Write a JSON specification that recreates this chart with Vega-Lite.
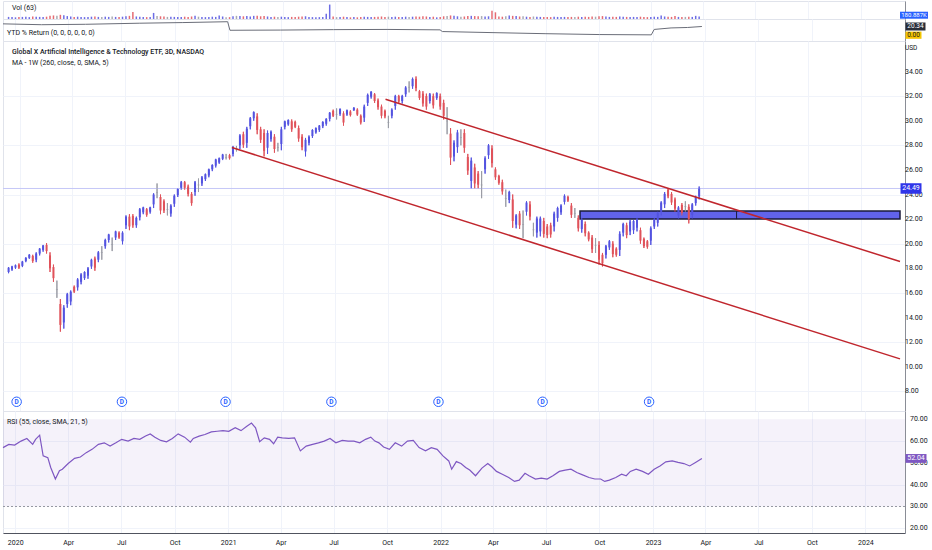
{
  "$schema": "https://vega.github.io/schema/vega-lite/v6.json",
  "background": "#ffffff",
  "padding": 0,
  "spacing": 0,
  "bounds": "flush",
  "config": {
    "view": {"stroke": "#e0e3eb", "strokeWidth": 1},
    "font": "Roboto",
    "text": {"font": "Roboto"},
    "axis": {"labelFont": "Roboto", "labelFontSize": 7, "labelColor": "#131722", "gridColor": "#f0f3fa", "ticks": false, "domainColor": "#8a8d96", "labelOverlap": false}
  },
  "datasets": {
    "px": [
      {"t": "2019-12-12", "o": 17.7, "h": 18.1, "l": 17.6, "c": 18.05, "v": 100},
      {"t": "2019-12-18", "o": 17.9, "h": 18.2, "l": 17.8, "c": 18.15, "v": 90},
      {"t": "2019-12-24", "o": 18.05, "h": 18.3, "l": 17.95, "c": 18.25, "v": 80},
      {"t": "2019-12-30", "o": 18.3, "h": 18.4, "l": 17.95, "c": 18.05, "v": 95},
      {"t": "2020-01-05", "o": 18.2, "h": 18.6, "l": 18.1, "c": 18.55, "v": 100},
      {"t": "2020-01-11", "o": 18.6, "h": 18.9, "l": 18.5, "c": 18.85, "v": 110},
      {"t": "2020-01-17", "o": 18.85, "h": 19.15, "l": 18.77, "c": 19.1, "v": 90},
      {"t": "2020-01-23", "o": 19.0, "h": 19.1, "l": 18.45, "c": 18.6, "v": 120},
      {"t": "2020-01-29", "o": 18.7, "h": 19.3, "l": 18.5, "c": 19.2, "v": 110},
      {"t": "2020-02-04", "o": 19.2, "h": 19.65, "l": 19.05, "c": 19.6, "v": 100},
      {"t": "2020-02-10", "o": 19.5, "h": 19.9, "l": 19.35, "c": 19.85, "v": 90},
      {"t": "2020-02-16", "o": 19.9, "h": 20.05, "l": 19.2, "c": 19.4, "v": 110},
      {"t": "2020-02-22", "o": 19.05, "h": 19.3, "l": 17.7, "c": 18.0, "v": 150},
      {"t": "2020-02-28", "o": 18.1, "h": 18.3, "l": 16.9, "c": 17.2, "v": 170},
      {"t": "2020-03-05", "o": 16.3, "h": 17.0, "l": 15.6, "c": 16.25, "v": 160},
      {"t": "2020-03-11", "o": 15.1, "h": 15.5, "l": 12.85, "c": 13.4, "v": 200},
      {"t": "2020-03-17", "o": 13.6, "h": 15.0, "l": 13.1, "c": 14.8, "v": 180},
      {"t": "2020-03-23", "o": 15.1, "h": 16.0, "l": 14.8, "c": 15.9, "v": 140},
      {"t": "2020-03-29", "o": 15.3, "h": 16.2, "l": 15.0, "c": 16.1, "v": 120},
      {"t": "2020-04-04", "o": 16.5, "h": 16.6, "l": 16.0, "c": 16.1, "v": 100},
      {"t": "2020-04-10", "o": 16.45, "h": 17.2, "l": 16.2, "c": 17.1, "v": 110},
      {"t": "2020-04-16", "o": 16.9, "h": 17.6, "l": 16.7, "c": 17.5, "v": 100},
      {"t": "2020-04-22", "o": 17.2, "h": 17.75, "l": 17.05, "c": 17.7, "v": 90},
      {"t": "2020-04-28", "o": 17.4, "h": 18.1, "l": 17.15, "c": 18.0, "v": 100},
      {"t": "2020-05-04", "o": 18.15, "h": 18.77, "l": 17.96, "c": 18.7, "v": 110},
      {"t": "2020-05-10", "o": 18.8, "h": 18.95, "l": 17.8, "c": 18.05, "v": 120},
      {"t": "2020-05-16", "o": 18.7, "h": 19.4, "l": 18.5, "c": 19.3, "v": 100},
      {"t": "2020-05-22", "o": 19.25, "h": 19.8, "l": 18.7, "c": 19.3, "v": 90},
      {"t": "2020-05-28", "o": 19.8, "h": 20.4, "l": 19.6, "c": 20.3, "v": 110},
      {"t": "2020-06-03", "o": 20.3, "h": 20.8, "l": 20.1, "c": 20.75, "v": 100},
      {"t": "2020-06-09", "o": 19.95, "h": 20.5, "l": 19.4, "c": 19.9, "v": 120},
      {"t": "2020-06-15", "o": 20.5, "h": 21.05, "l": 20.3, "c": 21.0, "v": 100},
      {"t": "2020-06-21", "o": 20.9, "h": 21.0, "l": 20.4, "c": 20.5, "v": 90},
      {"t": "2020-06-27", "o": 20.2, "h": 21.0, "l": 19.95, "c": 20.9, "v": 110},
      {"t": "2020-07-03", "o": 21.5, "h": 22.3, "l": 21.2, "c": 22.2, "v": 130},
      {"t": "2020-07-09", "o": 22.2, "h": 22.4, "l": 21.1, "c": 21.4, "v": 150},
      {"t": "2020-07-15", "o": 22.25, "h": 22.4, "l": 21.3, "c": 21.5, "v": 330},
      {"t": "2020-07-21", "o": 21.5, "h": 22.2, "l": 21.3, "c": 22.1, "v": 120},
      {"t": "2020-07-27", "o": 22.15, "h": 22.9, "l": 21.9, "c": 22.8, "v": 110},
      {"t": "2020-08-02", "o": 22.55, "h": 23.0, "l": 22.4, "c": 22.95, "v": 100},
      {"t": "2020-08-08", "o": 22.8, "h": 22.9, "l": 22.2, "c": 22.35, "v": 90},
      {"t": "2020-08-14", "o": 22.6, "h": 23.0, "l": 22.45, "c": 22.95, "v": 100},
      {"t": "2020-08-20", "o": 23.2, "h": 24.1, "l": 22.9, "c": 24.0, "v": 290},
      {"t": "2020-08-26", "o": 24.2, "h": 24.9, "l": 23.7, "c": 24.15, "v": 140},
      {"t": "2020-09-01", "o": 23.8, "h": 24.0, "l": 22.4, "c": 22.7, "v": 130},
      {"t": "2020-09-07", "o": 23.45, "h": 23.6, "l": 22.5, "c": 22.7, "v": 120},
      {"t": "2020-09-13", "o": 22.8, "h": 23.3, "l": 22.3, "c": 22.75, "v": 100},
      {"t": "2020-09-19", "o": 22.45, "h": 23.2, "l": 22.2, "c": 23.1, "v": 110},
      {"t": "2020-09-25", "o": 23.25, "h": 24.0, "l": 23.0, "c": 23.9, "v": 100},
      {"t": "2020-10-01", "o": 23.95, "h": 24.5, "l": 23.8, "c": 24.45, "v": 90},
      {"t": "2020-10-07", "o": 24.55, "h": 25.1, "l": 24.4, "c": 25.0, "v": 100},
      {"t": "2020-10-13", "o": 25.0, "h": 25.1, "l": 24.4, "c": 24.55, "v": 110},
      {"t": "2020-10-19", "o": 24.65, "h": 24.8, "l": 23.85, "c": 24.05, "v": 100},
      {"t": "2020-10-25", "o": 24.05, "h": 24.2, "l": 23.1, "c": 23.3, "v": 120},
      {"t": "2020-10-31", "o": 24.2, "h": 25.1, "l": 23.9, "c": 25.0, "v": 160},
      {"t": "2020-11-06", "o": 24.75, "h": 25.3, "l": 24.2, "c": 24.8, "v": 110},
      {"t": "2020-11-12", "o": 24.9, "h": 25.5, "l": 24.7, "c": 25.4, "v": 100},
      {"t": "2020-11-18", "o": 25.25, "h": 25.7, "l": 25.1, "c": 25.65, "v": 90},
      {"t": "2020-11-24", "o": 25.55, "h": 26.1, "l": 25.4, "c": 26.05, "v": 100},
      {"t": "2020-11-30", "o": 26.05, "h": 26.45, "l": 25.9, "c": 26.4, "v": 110},
      {"t": "2020-12-06", "o": 26.35, "h": 26.9, "l": 26.2, "c": 26.85, "v": 100},
      {"t": "2020-12-12", "o": 26.6, "h": 27.0, "l": 26.5, "c": 26.95, "v": 170},
      {"t": "2020-12-18", "o": 26.9, "h": 27.3, "l": 26.8, "c": 27.25, "v": 120},
      {"t": "2020-12-24", "o": 27.05, "h": 27.3, "l": 26.85, "c": 27.0, "v": 80},
      {"t": "2020-12-30", "o": 27.2, "h": 27.3, "l": 26.85, "c": 26.95, "v": 90},
      {"t": "2021-01-05", "o": 27.3, "h": 27.95, "l": 27.1, "c": 27.85, "v": 130},
      {"t": "2021-01-11", "o": 27.75, "h": 27.95, "l": 27.5, "c": 27.7, "v": 150},
      {"t": "2021-01-17", "o": 28.0, "h": 28.9, "l": 27.7, "c": 28.8, "v": 140},
      {"t": "2021-01-23", "o": 28.9, "h": 29.1, "l": 27.8, "c": 28.05, "v": 130},
      {"t": "2021-01-29", "o": 28.2, "h": 29.5, "l": 27.8, "c": 29.35, "v": 140},
      {"t": "2021-02-04", "o": 29.55, "h": 30.3, "l": 29.3, "c": 30.2, "v": 120},
      {"t": "2021-02-10", "o": 30.2, "h": 30.75, "l": 30.0, "c": 30.7, "v": 150},
      {"t": "2021-02-16", "o": 30.35, "h": 30.6, "l": 28.9, "c": 29.25, "v": 160},
      {"t": "2021-02-22", "o": 29.3, "h": 29.5, "l": 28.2, "c": 28.45, "v": 130},
      {"t": "2021-02-28", "o": 29.0, "h": 29.3, "l": 27.1, "c": 27.55, "v": 140},
      {"t": "2021-03-06", "o": 27.8, "h": 29.2, "l": 27.3, "c": 29.0, "v": 120},
      {"t": "2021-03-12", "o": 28.5, "h": 29.2, "l": 28.3, "c": 29.1, "v": 100},
      {"t": "2021-03-18", "o": 28.7, "h": 28.9, "l": 27.4, "c": 27.7, "v": 110},
      {"t": "2021-03-24", "o": 27.85, "h": 28.2, "l": 27.5, "c": 27.8, "v": 100},
      {"t": "2021-03-30", "o": 28.1, "h": 29.5, "l": 27.6, "c": 29.3, "v": 110},
      {"t": "2021-04-05", "o": 29.5, "h": 30.0, "l": 29.3, "c": 29.95, "v": 100},
      {"t": "2021-04-11", "o": 29.7, "h": 30.1, "l": 29.6, "c": 30.05, "v": 90},
      {"t": "2021-04-17", "o": 29.95, "h": 30.1, "l": 29.1, "c": 29.3, "v": 100},
      {"t": "2021-04-23", "o": 29.9, "h": 30.0, "l": 29.4, "c": 29.5, "v": 90},
      {"t": "2021-04-29", "o": 29.4, "h": 29.6, "l": 28.3, "c": 28.55, "v": 110},
      {"t": "2021-05-05", "o": 28.7, "h": 28.9, "l": 27.6, "c": 27.85, "v": 120},
      {"t": "2021-05-11", "o": 27.5, "h": 28.6, "l": 27.1, "c": 28.45, "v": 130},
      {"t": "2021-05-17", "o": 28.2, "h": 28.8, "l": 28.0, "c": 28.7, "v": 100},
      {"t": "2021-05-23", "o": 28.75, "h": 29.3, "l": 28.6, "c": 29.25, "v": 90},
      {"t": "2021-05-29", "o": 29.05, "h": 29.45, "l": 28.95, "c": 29.4, "v": 80},
      {"t": "2021-06-04", "o": 29.25, "h": 29.65, "l": 29.1, "c": 29.6, "v": 90},
      {"t": "2021-06-10", "o": 29.55, "h": 29.95, "l": 29.4, "c": 29.9, "v": 100},
      {"t": "2021-06-16", "o": 29.75, "h": 30.2, "l": 29.6, "c": 30.15, "v": 250},
      {"t": "2021-06-22", "o": 30.15, "h": 30.7, "l": 29.95, "c": 30.65, "v": 690},
      {"t": "2021-06-28", "o": 30.8, "h": 30.9, "l": 30.3, "c": 30.4, "v": 120},
      {"t": "2021-07-04", "o": 30.55, "h": 31.0, "l": 30.1, "c": 30.5, "v": 90},
      {"t": "2021-07-10", "o": 30.55, "h": 31.0, "l": 30.4, "c": 30.95, "v": 100},
      {"t": "2021-07-16", "o": 30.6, "h": 30.75, "l": 29.6, "c": 29.85, "v": 110},
      {"t": "2021-07-22", "o": 30.5, "h": 30.9, "l": 30.4, "c": 30.85, "v": 90},
      {"t": "2021-07-28", "o": 30.75, "h": 30.85, "l": 30.35, "c": 30.45, "v": 80},
      {"t": "2021-08-03", "o": 30.85, "h": 31.1, "l": 30.8, "c": 31.05, "v": 90},
      {"t": "2021-08-09", "o": 30.9, "h": 31.0, "l": 30.4, "c": 30.5, "v": 80},
      {"t": "2021-08-15", "o": 30.4, "h": 30.5, "l": 29.7, "c": 29.85, "v": 100},
      {"t": "2021-08-21", "o": 30.25, "h": 31.3, "l": 29.9, "c": 31.15, "v": 110},
      {"t": "2021-08-27", "o": 31.45, "h": 32.2, "l": 31.2, "c": 32.1, "v": 100},
      {"t": "2021-09-02", "o": 31.95, "h": 32.4, "l": 31.8, "c": 32.35, "v": 90},
      {"t": "2021-09-08", "o": 32.15, "h": 32.25, "l": 31.45, "c": 31.6, "v": 100},
      {"t": "2021-09-14", "o": 31.65, "h": 31.8, "l": 30.9, "c": 31.1, "v": 110},
      {"t": "2021-09-20", "o": 31.15, "h": 31.3, "l": 30.2, "c": 30.4, "v": 120},
      {"t": "2021-09-26", "o": 30.8, "h": 30.9, "l": 30.2, "c": 30.35, "v": 100},
      {"t": "2021-10-02", "o": 29.9, "h": 30.4, "l": 29.4, "c": 29.85, "v": 110},
      {"t": "2021-10-08", "o": 30.4, "h": 31.0, "l": 30.2, "c": 30.9, "v": 100},
      {"t": "2021-10-14", "o": 31.2, "h": 32.1, "l": 30.9, "c": 32.0, "v": 110},
      {"t": "2021-10-20", "o": 32.0, "h": 32.1, "l": 31.4, "c": 31.55, "v": 90},
      {"t": "2021-10-26", "o": 31.6, "h": 32.1, "l": 31.4, "c": 32.0, "v": 100},
      {"t": "2021-11-01", "o": 32.15, "h": 32.8, "l": 31.95, "c": 32.7, "v": 110},
      {"t": "2021-11-07", "o": 32.75, "h": 33.2, "l": 32.3, "c": 32.7, "v": 100},
      {"t": "2021-11-13", "o": 32.8, "h": 33.5, "l": 32.6, "c": 33.4, "v": 110},
      {"t": "2021-11-19", "o": 33.4, "h": 33.6, "l": 32.4, "c": 32.65, "v": 120},
      {"t": "2021-11-25", "o": 32.4, "h": 32.5, "l": 31.7, "c": 31.85, "v": 110},
      {"t": "2021-12-01", "o": 32.2, "h": 32.4, "l": 31.15, "c": 31.4, "v": 130},
      {"t": "2021-12-07", "o": 32.0, "h": 32.2, "l": 30.9, "c": 31.15, "v": 120},
      {"t": "2021-12-13", "o": 31.6, "h": 32.25, "l": 31.4, "c": 32.15, "v": 100},
      {"t": "2021-12-19", "o": 32.0, "h": 32.2, "l": 31.0, "c": 31.25, "v": 110},
      {"t": "2021-12-25", "o": 31.85, "h": 32.3, "l": 31.7, "c": 32.25, "v": 80},
      {"t": "2021-12-31", "o": 32.0, "h": 32.2, "l": 30.9, "c": 31.15, "v": 100},
      {"t": "2022-01-06", "o": 31.45, "h": 31.7, "l": 30.1, "c": 30.4, "v": 130},
      {"t": "2022-01-12", "o": 30.0, "h": 31.1, "l": 28.9, "c": 29.95, "v": 140},
      {"t": "2022-01-18", "o": 28.95, "h": 29.4, "l": 26.4, "c": 27.0, "v": 170},
      {"t": "2022-01-24", "o": 27.1, "h": 28.4, "l": 26.7, "c": 28.2, "v": 160},
      {"t": "2022-01-30", "o": 27.85, "h": 29.25, "l": 27.4, "c": 29.05, "v": 130},
      {"t": "2022-02-05", "o": 28.65, "h": 29.3, "l": 28.0, "c": 28.6, "v": 110},
      {"t": "2022-02-11", "o": 29.0, "h": 29.3, "l": 27.4, "c": 27.8, "v": 120},
      {"t": "2022-02-17", "o": 27.05, "h": 27.3, "l": 25.6, "c": 25.95, "v": 140},
      {"t": "2022-02-23", "o": 25.1, "h": 27.0, "l": 24.5, "c": 26.75, "v": 150},
      {"t": "2022-03-01", "o": 26.2, "h": 26.5, "l": 24.5, "c": 24.9, "v": 140},
      {"t": "2022-03-07", "o": 25.7, "h": 25.9, "l": 24.5, "c": 24.8, "v": 130},
      {"t": "2022-03-13", "o": 24.8, "h": 25.9, "l": 23.7, "c": 24.75, "v": 140},
      {"t": "2022-03-19", "o": 26.05, "h": 27.1, "l": 25.7, "c": 26.95, "v": 120},
      {"t": "2022-03-25", "o": 27.2, "h": 28.1, "l": 26.9, "c": 28.0, "v": 130},
      {"t": "2022-03-31", "o": 27.75, "h": 28.0, "l": 26.2, "c": 26.55, "v": 400},
      {"t": "2022-04-06", "o": 26.05, "h": 26.2, "l": 25.2, "c": 25.4, "v": 320},
      {"t": "2022-04-12", "o": 25.5, "h": 25.6, "l": 24.8, "c": 24.95, "v": 120},
      {"t": "2022-04-18", "o": 25.0, "h": 25.2, "l": 24.0, "c": 24.25, "v": 110},
      {"t": "2022-04-24", "o": 23.7, "h": 24.4, "l": 23.0, "c": 23.65, "v": 130},
      {"t": "2022-04-30", "o": 23.55, "h": 24.3, "l": 23.3, "c": 24.2, "v": 170},
      {"t": "2022-05-06", "o": 23.6, "h": 24.0, "l": 21.3, "c": 21.85, "v": 150},
      {"t": "2022-05-12", "o": 21.55, "h": 22.4, "l": 21.25, "c": 22.3, "v": 140},
      {"t": "2022-05-18", "o": 22.45, "h": 22.65, "l": 21.2, "c": 21.5, "v": 120},
      {"t": "2022-05-24", "o": 21.6, "h": 22.7, "l": 20.45, "c": 21.55, "v": 130},
      {"t": "2022-05-30", "o": 22.6, "h": 23.45, "l": 22.3, "c": 23.35, "v": 110},
      {"t": "2022-06-05", "o": 23.2, "h": 23.45, "l": 21.9, "c": 22.2, "v": 100},
      {"t": "2022-06-11", "o": 21.15, "h": 21.7, "l": 20.6, "c": 21.1, "v": 120},
      {"t": "2022-06-17", "o": 20.9, "h": 22.2, "l": 20.5, "c": 22.05, "v": 110},
      {"t": "2022-06-23", "o": 21.0, "h": 22.2, "l": 20.6, "c": 22.05, "v": 100},
      {"t": "2022-06-29", "o": 21.85, "h": 22.1, "l": 20.5, "c": 20.8, "v": 90},
      {"t": "2022-07-05", "o": 21.4, "h": 21.6, "l": 20.45, "c": 20.7, "v": 100},
      {"t": "2022-07-11", "o": 21.5, "h": 21.7, "l": 20.5, "c": 20.75, "v": 90},
      {"t": "2022-07-17", "o": 21.4, "h": 22.6, "l": 21.0, "c": 22.45, "v": 110},
      {"t": "2022-07-23", "o": 22.1, "h": 23.0, "l": 21.8, "c": 22.9, "v": 100},
      {"t": "2022-07-29", "o": 22.55, "h": 23.2, "l": 22.35, "c": 23.1, "v": 90},
      {"t": "2022-08-04", "o": 23.4, "h": 24.0, "l": 23.2, "c": 23.9, "v": 100},
      {"t": "2022-08-10", "o": 23.8, "h": 23.9, "l": 23.4, "c": 23.5, "v": 90},
      {"t": "2022-08-16", "o": 23.1, "h": 23.3, "l": 22.1, "c": 22.35, "v": 100},
      {"t": "2022-08-22", "o": 22.5, "h": 22.9, "l": 22.1, "c": 22.45, "v": 90},
      {"t": "2022-08-28", "o": 22.1, "h": 22.3, "l": 21.0, "c": 21.25, "v": 110},
      {"t": "2022-09-03", "o": 21.2, "h": 22.1, "l": 20.9, "c": 21.95, "v": 100},
      {"t": "2022-09-09", "o": 21.6, "h": 21.8, "l": 20.6, "c": 20.85, "v": 110},
      {"t": "2022-09-15", "o": 20.9, "h": 21.0, "l": 20.2, "c": 20.35, "v": 100},
      {"t": "2022-09-21", "o": 20.5, "h": 20.7, "l": 19.25, "c": 19.55, "v": 120},
      {"t": "2022-09-27", "o": 19.85, "h": 20.45, "l": 19.25, "c": 19.9, "v": 110},
      {"t": "2022-10-03", "o": 19.9, "h": 20.2, "l": 18.3, "c": 18.7, "v": 130},
      {"t": "2022-10-09", "o": 19.1, "h": 19.25, "l": 18.15, "c": 18.4, "v": 140},
      {"t": "2022-10-15", "o": 19.1, "h": 19.9, "l": 18.8, "c": 19.8, "v": 120},
      {"t": "2022-10-21", "o": 19.7, "h": 20.3, "l": 19.5, "c": 20.2, "v": 100},
      {"t": "2022-10-27", "o": 20.0, "h": 20.2, "l": 18.9, "c": 19.15, "v": 110},
      {"t": "2022-11-02", "o": 19.6, "h": 19.7, "l": 18.95, "c": 19.1, "v": 100},
      {"t": "2022-11-08", "o": 19.5, "h": 21.0, "l": 19.0, "c": 20.8, "v": 120},
      {"t": "2022-11-14", "o": 20.9, "h": 21.7, "l": 20.6, "c": 21.6, "v": 110},
      {"t": "2022-11-20", "o": 21.5, "h": 21.7, "l": 20.45, "c": 20.7, "v": 100},
      {"t": "2022-11-26", "o": 21.0, "h": 21.95, "l": 20.7, "c": 21.8, "v": 90},
      {"t": "2022-12-02", "o": 21.1, "h": 21.95, "l": 20.8, "c": 21.85, "v": 100},
      {"t": "2022-12-08", "o": 21.3, "h": 22.1, "l": 21.0, "c": 22.0, "v": 90},
      {"t": "2022-12-14", "o": 21.1, "h": 21.3, "l": 20.0, "c": 20.25, "v": 110},
      {"t": "2022-12-20", "o": 20.4, "h": 20.5, "l": 19.65, "c": 19.8, "v": 100},
      {"t": "2022-12-26", "o": 20.2, "h": 20.3, "l": 19.6, "c": 19.75, "v": 90},
      {"t": "2023-01-01", "o": 20.25, "h": 21.4, "l": 19.9, "c": 21.25, "v": 100},
      {"t": "2023-01-07", "o": 21.4, "h": 22.1, "l": 21.2, "c": 22.0, "v": 110},
      {"t": "2023-01-13", "o": 21.7, "h": 22.6, "l": 21.4, "c": 22.5, "v": 100},
      {"t": "2023-01-19", "o": 22.6, "h": 23.45, "l": 22.3, "c": 23.35, "v": 170},
      {"t": "2023-01-25", "o": 23.2, "h": 24.2, "l": 22.9, "c": 24.05, "v": 120},
      {"t": "2023-01-31", "o": 24.4, "h": 24.5, "l": 23.7, "c": 23.85, "v": 110},
      {"t": "2023-02-06", "o": 24.05, "h": 24.2, "l": 23.15, "c": 23.35, "v": 100},
      {"t": "2023-02-12", "o": 23.6, "h": 23.75, "l": 22.6, "c": 22.85, "v": 140},
      {"t": "2023-02-18", "o": 22.3, "h": 23.05, "l": 22.05, "c": 22.95, "v": 100},
      {"t": "2023-02-24", "o": 23.15, "h": 23.3, "l": 22.3, "c": 22.5, "v": 90},
      {"t": "2023-03-02", "o": 23.0, "h": 23.45, "l": 22.6, "c": 23.05, "v": 100},
      {"t": "2023-03-08", "o": 23.0, "h": 23.2, "l": 21.65, "c": 22.0, "v": 110},
      {"t": "2023-03-14", "o": 22.35, "h": 23.3, "l": 22.05, "c": 23.2, "v": 100},
      {"t": "2023-03-20", "o": 23.3, "h": 23.9, "l": 23.1, "c": 23.8, "v": 150},
      {"t": "2023-03-26", "o": 23.85, "h": 24.65, "l": 23.6, "c": 24.49, "v": 120}
    ],
    "ytd": [
      {"t": "2019-12-11", "ret": 26.5},
      {"t": "2020-02-15", "ret": 24.5},
      {"t": "2020-05-01", "ret": 25.5},
      {"t": "2020-08-01", "ret": 28},
      {"t": "2020-10-15", "ret": 29.5},
      {"t": "2020-12-31", "ret": 31.5},
      {"t": "2021-01-04", "ret": 11.5},
      {"t": "2021-04-01", "ret": 12},
      {"t": "2021-07-01", "ret": 13},
      {"t": "2021-10-01", "ret": 13.5},
      {"t": "2021-12-31", "ret": 12.5},
      {"t": "2022-01-04", "ret": 8.5},
      {"t": "2022-04-01", "ret": 6},
      {"t": "2022-07-01", "ret": 3.5},
      {"t": "2022-10-01", "ret": 1.5},
      {"t": "2022-12-29", "ret": 0.8},
      {"t": "2023-01-03", "ret": 13.5},
      {"t": "2023-02-01", "ret": 17},
      {"t": "2023-03-01", "ret": 18},
      {"t": "2023-03-26", "ret": 20.34}
    ],
    "rsi": [
      {"t": "2019-12-11", "r": 57.0}, {"t": "2019-12-21", "r": 58.5}, {"t": "2019-12-31", "r": 58.2},
      {"t": "2020-01-11", "r": 60.0}, {"t": "2020-01-21", "r": 61.2}, {"t": "2020-01-31", "r": 58.5},
      {"t": "2020-02-05", "r": 60.8}, {"t": "2020-02-12", "r": 62.7}, {"t": "2020-02-18", "r": 53.2},
      {"t": "2020-02-26", "r": 52.4}, {"t": "2020-03-02", "r": 47.9}, {"t": "2020-03-10", "r": 42.6},
      {"t": "2020-03-17", "r": 46.4}, {"t": "2020-03-22", "r": 47.1}, {"t": "2020-04-01", "r": 49.7},
      {"t": "2020-04-12", "r": 52.1}, {"t": "2020-04-22", "r": 52.7}, {"t": "2020-05-02", "r": 54.7},
      {"t": "2020-05-12", "r": 56.2}, {"t": "2020-05-23", "r": 58.5}, {"t": "2020-06-02", "r": 59.2},
      {"t": "2020-06-12", "r": 57.7}, {"t": "2020-06-22", "r": 59.2}, {"t": "2020-07-02", "r": 60.8},
      {"t": "2020-07-13", "r": 60.0}, {"t": "2020-07-23", "r": 61.2}, {"t": "2020-08-02", "r": 60.8},
      {"t": "2020-08-12", "r": 62.3}, {"t": "2020-08-20", "r": 63.3}, {"t": "2020-08-28", "r": 61.8},
      {"t": "2020-09-07", "r": 60.3}, {"t": "2020-09-17", "r": 59.7}, {"t": "2020-09-27", "r": 61.2},
      {"t": "2020-10-07", "r": 63.3}, {"t": "2020-10-18", "r": 61.8}, {"t": "2020-10-28", "r": 59.5},
      {"t": "2020-11-02", "r": 61.2}, {"t": "2020-11-12", "r": 62.3}, {"t": "2020-11-22", "r": 63.0},
      {"t": "2020-12-03", "r": 64.2}, {"t": "2020-12-13", "r": 64.5}, {"t": "2020-12-23", "r": 64.8},
      {"t": "2021-01-02", "r": 64.5}, {"t": "2021-01-13", "r": 66.1}, {"t": "2021-01-23", "r": 64.8},
      {"t": "2021-02-02", "r": 66.8}, {"t": "2021-02-10", "r": 68.3}, {"t": "2021-02-17", "r": 66.1},
      {"t": "2021-02-24", "r": 59.7}, {"t": "2021-03-04", "r": 61.5}, {"t": "2021-03-13", "r": 60.8},
      {"t": "2021-03-20", "r": 58.8}, {"t": "2021-03-27", "r": 61.8}, {"t": "2021-04-04", "r": 61.5},
      {"t": "2021-04-15", "r": 61.2}, {"t": "2021-04-25", "r": 61.5}, {"t": "2021-05-05", "r": 55.5},
      {"t": "2021-05-15", "r": 57.7}, {"t": "2021-05-26", "r": 58.5}, {"t": "2021-06-05", "r": 59.2},
      {"t": "2021-06-15", "r": 60.0}, {"t": "2021-06-25", "r": 61.2}, {"t": "2021-07-05", "r": 59.2},
      {"t": "2021-07-16", "r": 60.3}, {"t": "2021-07-26", "r": 60.0}, {"t": "2021-08-05", "r": 60.0},
      {"t": "2021-08-15", "r": 59.2}, {"t": "2021-08-25", "r": 60.8}, {"t": "2021-09-03", "r": 61.8},
      {"t": "2021-09-10", "r": 60.0}, {"t": "2021-09-17", "r": 59.2}, {"t": "2021-09-25", "r": 57.3},
      {"t": "2021-10-05", "r": 56.2}, {"t": "2021-10-15", "r": 59.2}, {"t": "2021-10-26", "r": 57.7},
      {"t": "2021-11-05", "r": 60.0}, {"t": "2021-11-15", "r": 60.3}, {"t": "2021-11-25", "r": 57.0},
      {"t": "2021-12-06", "r": 55.5}, {"t": "2021-12-16", "r": 57.0}, {"t": "2021-12-26", "r": 56.2},
      {"t": "2022-01-05", "r": 53.2}, {"t": "2022-01-15", "r": 50.9}, {"t": "2022-01-20", "r": 47.1},
      {"t": "2022-01-28", "r": 50.6}, {"t": "2022-02-05", "r": 49.7}, {"t": "2022-02-13", "r": 47.9},
      {"t": "2022-02-20", "r": 46.7}, {"t": "2022-03-02", "r": 44.1}, {"t": "2022-03-13", "r": 47.6},
      {"t": "2022-03-23", "r": 49.7}, {"t": "2022-03-30", "r": 48.2}, {"t": "2022-04-07", "r": 46.1},
      {"t": "2022-04-17", "r": 44.8}, {"t": "2022-04-28", "r": 43.3}, {"t": "2022-05-08", "r": 41.5},
      {"t": "2022-05-16", "r": 42.1}, {"t": "2022-05-26", "r": 45.2}, {"t": "2022-06-02", "r": 44.1},
      {"t": "2022-06-13", "r": 42.6}, {"t": "2022-06-23", "r": 43.0}, {"t": "2022-07-03", "r": 42.6},
      {"t": "2022-07-13", "r": 44.1}, {"t": "2022-07-24", "r": 46.1}, {"t": "2022-08-03", "r": 46.7},
      {"t": "2022-08-13", "r": 47.1}, {"t": "2022-08-23", "r": 45.6}, {"t": "2022-09-02", "r": 44.5},
      {"t": "2022-09-13", "r": 43.3}, {"t": "2022-09-23", "r": 42.6}, {"t": "2022-10-03", "r": 42.6},
      {"t": "2022-10-10", "r": 41.5}, {"t": "2022-10-18", "r": 42.1}, {"t": "2022-10-29", "r": 43.3},
      {"t": "2022-11-08", "r": 44.8}, {"t": "2022-11-16", "r": 44.1}, {"t": "2022-11-23", "r": 46.1},
      {"t": "2022-12-03", "r": 47.1}, {"t": "2022-12-14", "r": 46.1}, {"t": "2022-12-24", "r": 44.8},
      {"t": "2023-01-03", "r": 47.1}, {"t": "2023-01-13", "r": 48.6}, {"t": "2023-01-23", "r": 50.5},
      {"t": "2023-02-03", "r": 50.9}, {"t": "2023-02-13", "r": 50.2}, {"t": "2023-02-23", "r": 49.7},
      {"t": "2023-03-05", "r": 48.6}, {"t": "2023-03-15", "r": 50.2}, {"t": "2023-03-26", "r": 52.04}
    ],
    "chan": [
      {"name": "upper", "t": "2021-09-27", "p": 31.75},
      {"name": "upper", "t": "2024-03-09", "p": 18.55},
      {"name": "lower", "t": "2021-01-03", "p": 27.82},
      {"name": "lower", "t": "2024-03-09", "p": 10.64}
    ],
    "zone": [
      {"t1": "2022-08-31", "t2": "2024-03-09", "mid": "2023-05-30", "lo": 22.0, "hi": 22.65}
    ],
    "div": [
      {"t": "2019-12-26"}, {"t": "2020-06-26"}, {"t": "2020-12-23"}, {"t": "2021-06-25"},
      {"t": "2021-12-28"}, {"t": "2022-06-27"}, {"t": "2022-12-29"}
    ],
    "ptick": [
      {"p": 8}, {"p": 10}, {"p": 12}, {"p": 14}, {"p": 16}, {"p": 18}, {"p": 20},
      {"p": 22}, {"p": 24}, {"p": 26}, {"p": 28}, {"p": 30}, {"p": 32}, {"p": 34}
    ],
    "rtick": [
      {"r": 20}, {"r": 30}, {"r": 40}, {"r": 50}, {"r": 60}, {"r": 70}
    ]
  },
  "vconcat": [
    {
      "width": 902,
      "height": 18,
      "layer": [
        {
          "data": {"name": "px"},
          "mark": {"type": "bar", "size": 1.5, "opacity": 0.85},
          "encoding": {
            "x": {"field": "t", "type": "temporal", "title": null, "scale": {"type": "utc", "nice": false, "domain": [{"year": 2019, "month": 12, "date": 11, "utc": true}, {"year": 2024, "month": 3, "date": 9, "utc": true}]},
              "axis": {"title": null, "labels": false, "domain": false, "ticks": false, "grid": true,
                "values": [{"year": 2020, "month": 1, "date": 1, "utc": true}, {"year": 2020, "month": 4, "date": 1, "utc": true}, {"year": 2020, "month": 7, "date": 1, "utc": true}, {"year": 2020, "month": 10, "date": 1, "utc": true}, {"year": 2021, "month": 1, "date": 1, "utc": true}, {"year": 2021, "month": 4, "date": 1, "utc": true}, {"year": 2021, "month": 7, "date": 1, "utc": true}, {"year": 2021, "month": 10, "date": 1, "utc": true}, {"year": 2022, "month": 1, "date": 1, "utc": true}, {"year": 2022, "month": 4, "date": 1, "utc": true}, {"year": 2022, "month": 7, "date": 1, "utc": true}, {"year": 2022, "month": 10, "date": 1, "utc": true}, {"year": 2023, "month": 1, "date": 1, "utc": true}, {"year": 2023, "month": 4, "date": 1, "utc": true}, {"year": 2023, "month": 7, "date": 1, "utc": true}, {"year": 2023, "month": 10, "date": 1, "utc": true}, {"year": 2024, "month": 1, "date": 1, "utc": true}]}},
            "y": {"field": "v", "type": "quantitative", "title": null, "scale": {"domain": [0, 860], "nice": false}, "axis": {"title": null, "orient": "right", "labels": false, "grid": false, "ticks": false, "domain": true}},
            "color": {"condition": [{"test": "abs(datum.c - datum.o) < 0.1", "value": "#9a9ca5"}, {"test": "datum.c > datum.o", "value": "#5353e0"}], "value": "#e0525a"}
          }
        },
        {
          "data": {"values": [{}]},
          "mark": {"type": "text", "text": "Vol (63)", "align": "left", "baseline": "middle", "dx": 4, "fontSize": 7, "color": "#131722"},
          "encoding": {
            "x": {"datum": {"year": 2019, "month": 12, "date": 11, "utc": true}, "type": "temporal"},
            "y": {"datum": 525}
          }
        },
        {
          "data": {"values": [{}]},
          "mark": {"type": "point", "shape": "M-1,-0.25H1V0.25H-1Z", "size": 784, "filled": true, "opacity": 1, "color": "#2962ff", "strokeWidth": 0, "xOffset": 14},
          "encoding": {
            "x": {"datum": {"year": 2024, "month": 3, "date": 9, "utc": true}, "type": "temporal"},
            "y": {"datum": 180.887}
          }
        },
        {
          "data": {"values": [{}]},
          "mark": {"type": "text", "text": "180.887K", "align": "center", "baseline": "middle", "dx": 14, "fontSize": 6, "color": "#ffffff"},
          "encoding": {
            "x": {"datum": {"year": 2024, "month": 3, "date": 9, "utc": true}, "type": "temporal"},
            "y": {"datum": 180.887}
          }
        }
      ]
    },
    {
      "width": 902,
      "height": 22,
      "layer": [
        {
          "data": {"name": "ytd"},
          "mark": {"type": "line", "color": "#6a6d78", "strokeWidth": 1},
          "encoding": {
            "x": {"field": "t", "type": "temporal", "title": null, "scale": {"type": "utc", "nice": false, "domain": [{"year": 2019, "month": 12, "date": 11, "utc": true}, {"year": 2024, "month": 3, "date": 9, "utc": true}]},
              "axis": {"title": null, "labels": false, "domain": false, "ticks": false, "grid": true,
                "values": [{"year": 2020, "month": 1, "date": 1, "utc": true}, {"year": 2020, "month": 4, "date": 1, "utc": true}, {"year": 2020, "month": 7, "date": 1, "utc": true}, {"year": 2020, "month": 10, "date": 1, "utc": true}, {"year": 2021, "month": 1, "date": 1, "utc": true}, {"year": 2021, "month": 4, "date": 1, "utc": true}, {"year": 2021, "month": 7, "date": 1, "utc": true}, {"year": 2021, "month": 10, "date": 1, "utc": true}, {"year": 2022, "month": 1, "date": 1, "utc": true}, {"year": 2022, "month": 4, "date": 1, "utc": true}, {"year": 2022, "month": 7, "date": 1, "utc": true}, {"year": 2022, "month": 10, "date": 1, "utc": true}, {"year": 2023, "month": 1, "date": 1, "utc": true}, {"year": 2023, "month": 4, "date": 1, "utc": true}, {"year": 2023, "month": 7, "date": 1, "utc": true}, {"year": 2023, "month": 10, "date": 1, "utc": true}, {"year": 2024, "month": 1, "date": 1, "utc": true}]}},
            "y": {"field": "ret", "type": "quantitative", "title": null, "scale": {"domain": [-13.55, 37.85], "nice": false, "zero": false}, "axis": {"title": null, "orient": "right", "labels": false, "grid": false, "ticks": false, "domain": true}}
          }
        },
        {
          "data": {"values": [{}]},
          "mark": {"type": "text", "text": "YTD % Return (0, 0, 0, 0, 0, 0)", "align": "left", "baseline": "middle", "dx": 4, "fontSize": 7, "color": "#131722"},
          "encoding": {
            "x": {"datum": {"year": 2019, "month": 12, "date": 11, "utc": true}, "type": "temporal"},
            "y": {"datum": 5.85}
          }
        },
        {
          "data": {"values": [{}]},
          "mark": {"type": "point", "shape": "M-1,-0.4H1V0.4H-1Z", "size": 400, "filled": true, "opacity": 1, "color": "#2a2e39", "strokeWidth": 0, "xOffset": 10.5},
          "encoding": {
            "x": {"datum": {"year": 2024, "month": 3, "date": 9, "utc": true}, "type": "temporal"},
            "y": {"datum": 20.34}
          }
        },
        {
          "data": {"values": [{}]},
          "mark": {"type": "text", "text": "20.34", "align": "center", "baseline": "middle", "dx": 10.5, "fontSize": 6.5, "color": "#ffffff"},
          "encoding": {
            "x": {"datum": {"year": 2024, "month": 3, "date": 9, "utc": true}, "type": "temporal"},
            "y": {"datum": 20.34}
          }
        },
        {
          "data": {"values": [{}]},
          "mark": {"type": "point", "shape": "M-1,-0.45H1V0.45H-1Z", "size": 256, "filled": true, "opacity": 1, "color": "#f5c400", "strokeWidth": 0, "xOffset": 8.5},
          "encoding": {
            "x": {"datum": {"year": 2024, "month": 3, "date": 9, "utc": true}, "type": "temporal"},
            "y": {"datum": 0}
          }
        },
        {
          "data": {"values": [{}]},
          "mark": {"type": "text", "text": "0.00", "align": "center", "baseline": "middle", "dx": 8.5, "fontSize": 6.5, "color": "#131722"},
          "encoding": {
            "x": {"datum": {"year": 2024, "month": 3, "date": 9, "utc": true}, "type": "temporal"},
            "y": {"datum": 0}
          }
        }
      ]
    },
    {
      "width": 902,
      "height": 370,
      "layer": [
        {
          "data": {"name": "px"},
          "mark": {"type": "rule", "strokeWidth": 1},
          "encoding": {
            "x": {"field": "t", "type": "temporal", "title": null, "scale": {"type": "utc", "nice": false, "domain": [{"year": 2019, "month": 12, "date": 11, "utc": true}, {"year": 2024, "month": 3, "date": 9, "utc": true}]},
              "axis": {"title": null, "labels": false, "domain": false, "ticks": false, "grid": true,
                "values": [{"year": 2020, "month": 1, "date": 1, "utc": true}, {"year": 2020, "month": 4, "date": 1, "utc": true}, {"year": 2020, "month": 7, "date": 1, "utc": true}, {"year": 2020, "month": 10, "date": 1, "utc": true}, {"year": 2021, "month": 1, "date": 1, "utc": true}, {"year": 2021, "month": 4, "date": 1, "utc": true}, {"year": 2021, "month": 7, "date": 1, "utc": true}, {"year": 2021, "month": 10, "date": 1, "utc": true}, {"year": 2022, "month": 1, "date": 1, "utc": true}, {"year": 2022, "month": 4, "date": 1, "utc": true}, {"year": 2022, "month": 7, "date": 1, "utc": true}, {"year": 2022, "month": 10, "date": 1, "utc": true}, {"year": 2023, "month": 1, "date": 1, "utc": true}, {"year": 2023, "month": 4, "date": 1, "utc": true}, {"year": 2023, "month": 7, "date": 1, "utc": true}, {"year": 2023, "month": 10, "date": 1, "utc": true}, {"year": 2024, "month": 1, "date": 1, "utc": true}]}},
            "y": {"field": "l", "type": "quantitative", "title": null, "scale": {"domain": [6.4, 36.48], "nice": false, "zero": false},
              "axis": {"title": null, "orient": "right", "values": [8, 10, 12, 14, 16, 18, 20, 22, 24, 26, 28, 30, 32, 34], "labels": false, "grid": true, "ticks": false, "domain": true}},
            "y2": {"field": "h"},
            "color": {"condition": [{"test": "abs(datum.c - datum.o) < 0.1", "value": "#9a9ca5"}, {"test": "datum.c > datum.o", "value": "#5353e0"}], "value": "#e0525a"}
          }
        },
        {
          "data": {"values": [{"p": 24.49}]},
          "mark": {"type": "rule", "color": "#c5c7f7", "strokeWidth": 1},
          "encoding": {
            "y": {"field": "p", "type": "quantitative", "title": null}
          }
        },
        {
          "data": {"name": "zone"},
          "mark": {"type": "rect", "fill": "#6163ea", "stroke": "#1a1b3a", "strokeWidth": 1.5},
          "encoding": {
            "x": {"field": "t1", "type": "temporal", "title": null},
            "x2": {"field": "t2"},
            "y": {"field": "lo", "type": "quantitative", "title": null},
            "y2": {"field": "hi"}
          }
        },
        {
          "data": {"name": "zone"},
          "mark": {"type": "rule", "color": "#1a1b3a", "strokeWidth": 1},
          "encoding": {
            "x": {"field": "mid", "type": "temporal", "title": null},
            "y": {"field": "lo", "type": "quantitative", "title": null},
            "y2": {"field": "hi"}
          }
        },
        {
          "data": {"name": "px"},
          "mark": {"type": "rule", "strokeWidth": 1},
          "encoding": {
            "x": {"field": "t", "type": "temporal", "title": null},
            "y": {"field": "l", "type": "quantitative", "title": null},
            "y2": {"field": "h"},
            "color": {"condition": [{"test": "abs(datum.c - datum.o) < 0.1", "value": "#9a9ca5"}, {"test": "datum.c > datum.o", "value": "#5353e0"}], "value": "#e0525a"}
          }
        },
        {
          "data": {"name": "px"},
          "mark": {"type": "bar", "size": 2},
          "encoding": {
            "x": {"field": "t", "type": "temporal", "title": null},
            "y": {"field": "o", "type": "quantitative", "title": null},
            "y2": {"field": "c"},
            "color": {"condition": [{"test": "abs(datum.c - datum.o) < 0.1", "value": "#9a9ca5"}, {"test": "datum.c > datum.o", "value": "#5353e0"}], "value": "#e0525a"}
          }
        },
        {
          "data": {"name": "chan"},
          "mark": {"type": "line", "color": "#c0262d", "strokeWidth": 1.5},
          "encoding": {
            "x": {"field": "t", "type": "temporal", "title": null},
            "y": {"field": "p", "type": "quantitative", "title": null},
            "detail": {"field": "name"}
          }
        },
        {
          "data": {"name": "div"},
          "mark": {"type": "point", "shape": "circle", "size": 90, "filled": true, "fill": "#ffffff", "stroke": "#2962ff", "strokeWidth": 1, "opacity": 1},
          "encoding": {
            "x": {"field": "t", "type": "temporal", "title": null},
            "y": {"datum": 7.15}
          }
        },
        {
          "data": {"name": "div"},
          "mark": {"type": "text", "text": "D", "align": "center", "baseline": "middle", "fontSize": 6.5, "fontWeight": "bold", "color": "#2962ff"},
          "encoding": {
            "x": {"field": "t", "type": "temporal", "title": null},
            "y": {"datum": 7.15}
          }
        },
        {
          "data": {"values": [{}]},
          "mark": {"type": "text", "text": "Global X Artificial Intelligence & Technology ETF, 3D, NASDAQ", "align": "left", "baseline": "middle", "dx": 4, "fontSize": 7, "fontWeight": 500, "color": "#131722"},
          "encoding": {
            "x": {"datum": {"year": 2019, "month": 12, "date": 11, "utc": true}, "type": "temporal"},
            "y": {"datum": 35.59}
          }
        },
        {
          "data": {"values": [{}]},
          "mark": {"type": "text", "text": "MA - 1W (260, close, 0, SMA, 5)", "align": "left", "baseline": "middle", "dx": 4, "fontSize": 7, "color": "#131722"},
          "encoding": {
            "x": {"datum": {"year": 2019, "month": 12, "date": 11, "utc": true}, "type": "temporal"},
            "y": {"datum": 34.7}
          }
        },
        {
          "data": {"values": [{}]},
          "mark": {"type": "text", "text": "USD", "align": "left", "baseline": "middle", "dx": 5, "fontSize": 6.5, "color": "#131722"},
          "encoding": {
            "x": {"datum": {"year": 2024, "month": 3, "date": 9, "utc": true}, "type": "temporal"},
            "y": {"datum": 35.94}
          }
        },
        {
          "data": {"name": "ptick"},
          "mark": {"type": "text", "align": "left", "baseline": "middle", "dx": 5, "fontSize": 7, "color": "#131722"},
          "encoding": {
            "x": {"datum": {"year": 2024, "month": 3, "date": 9, "utc": true}, "type": "temporal"},
            "y": {"field": "p", "type": "quantitative", "title": null},
            "text": {"field": "p", "type": "quantitative", "format": ".2f"}
          }
        },
        {
          "data": {"values": [{}]},
          "mark": {"type": "point", "shape": "M-1,-0.5H1V0.5H-1Z", "size": 441, "filled": true, "opacity": 1, "color": "#2f35e9", "strokeWidth": 0, "xOffset": 11},
          "encoding": {
            "x": {"datum": {"year": 2024, "month": 3, "date": 9, "utc": true}, "type": "temporal"},
            "y": {"datum": 24.49}
          }
        },
        {
          "data": {"values": [{}]},
          "mark": {"type": "text", "text": "24.49", "align": "center", "baseline": "middle", "dx": 11, "fontSize": 7, "color": "#ffffff"},
          "encoding": {
            "x": {"datum": {"year": 2024, "month": 3, "date": 9, "utc": true}, "type": "temporal"},
            "y": {"datum": 24.49}
          }
        }
      ]
    },
    {
      "width": 902,
      "height": 122,
      "layer": [
        {
          "data": {"name": "rsi"},
          "mark": {"type": "line", "color": "#7e57c2", "strokeWidth": 1.2, "opacity": 0},
          "encoding": {
            "x": {"field": "t", "type": "temporal", "title": null, "scale": {"type": "utc", "nice": false, "domain": [{"year": 2019, "month": 12, "date": 11, "utc": true}, {"year": 2024, "month": 3, "date": 9, "utc": true}]},
              "axis": {"title": null, "labels": true, "domain": true, "domainColor": "#50535e", "ticks": false, "grid": true, "labelPadding": 5, "labelFlush": false, "labelOverlap": false,
                "labelExpr": "utcFormat(datum.value, '%m') == '01' ? utcFormat(datum.value, '%Y') : utcFormat(datum.value, '%b')",
                "values": [{"year": 2020, "month": 1, "date": 1, "utc": true}, {"year": 2020, "month": 4, "date": 1, "utc": true}, {"year": 2020, "month": 7, "date": 1, "utc": true}, {"year": 2020, "month": 10, "date": 1, "utc": true}, {"year": 2021, "month": 1, "date": 1, "utc": true}, {"year": 2021, "month": 4, "date": 1, "utc": true}, {"year": 2021, "month": 7, "date": 1, "utc": true}, {"year": 2021, "month": 10, "date": 1, "utc": true}, {"year": 2022, "month": 1, "date": 1, "utc": true}, {"year": 2022, "month": 4, "date": 1, "utc": true}, {"year": 2022, "month": 7, "date": 1, "utc": true}, {"year": 2022, "month": 10, "date": 1, "utc": true}, {"year": 2023, "month": 1, "date": 1, "utc": true}, {"year": 2023, "month": 4, "date": 1, "utc": true}, {"year": 2023, "month": 7, "date": 1, "utc": true}, {"year": 2023, "month": 10, "date": 1, "utc": true}, {"year": 2024, "month": 1, "date": 1, "utc": true}]}},
            "y": {"field": "r", "type": "quantitative", "title": null, "scale": {"domain": [17.84, 73.8], "nice": false, "zero": false},
              "axis": {"title": null, "orient": "right", "values": [20, 30, 40, 50, 60, 70], "labels": false, "grid": true, "ticks": false, "domain": true}}
          }
        },
        {
          "data": {"values": [{"lo": 30, "hi": 70}]},
          "mark": {"type": "rect", "color": "#7e57c2", "opacity": 0.08},
          "encoding": {
            "y": {"field": "lo", "type": "quantitative", "title": null},
            "y2": {"field": "hi"}
          }
        },
        {
          "data": {"values": [{}]},
          "mark": {"type": "rule", "color": "#9598a1", "strokeWidth": 1, "strokeDash": [2, 2]},
          "encoding": {
            "y": {"datum": 30}
          }
        },
        {
          "data": {"name": "rsi"},
          "mark": {"type": "line", "color": "#7e57c2", "strokeWidth": 1.2},
          "encoding": {
            "x": {"field": "t", "type": "temporal", "title": null},
            "y": {"field": "r", "type": "quantitative", "title": null}
          }
        },
        {
          "data": {"values": [{}]},
          "mark": {"type": "text", "text": "RSI (55, close, SMA, 21, 5)", "align": "left", "baseline": "middle", "dx": 4, "fontSize": 7, "color": "#131722"},
          "encoding": {
            "x": {"datum": {"year": 2019, "month": 12, "date": 11, "utc": true}, "type": "temporal"},
            "y": {"datum": 68.75}
          }
        },
        {
          "data": {"name": "rtick"},
          "mark": {"type": "text", "align": "left", "baseline": "middle", "dx": 5, "fontSize": 7, "color": "#131722"},
          "encoding": {
            "x": {"datum": {"year": 2024, "month": 3, "date": 9, "utc": true}, "type": "temporal"},
            "y": {"field": "r", "type": "quantitative", "title": null},
            "text": {"field": "r", "type": "quantitative", "format": ".2f"}
          }
        },
        {
          "data": {"values": [{}]},
          "mark": {"type": "point", "shape": "M-1,-0.42H1V0.42H-1Z", "size": 441, "filled": true, "opacity": 1, "color": "#7e57c2", "strokeWidth": 0, "xOffset": 11},
          "encoding": {
            "x": {"datum": {"year": 2024, "month": 3, "date": 9, "utc": true}, "type": "temporal"},
            "y": {"datum": 52.04}
          }
        },
        {
          "data": {"values": [{}]},
          "mark": {"type": "text", "text": "52.04", "align": "center", "baseline": "middle", "dx": 11, "fontSize": 7, "color": "#ffffff"},
          "encoding": {
            "x": {"datum": {"year": 2024, "month": 3, "date": 9, "utc": true}, "type": "temporal"},
            "y": {"datum": 52.04}
          }
        }
      ]
    }
  ]
}
